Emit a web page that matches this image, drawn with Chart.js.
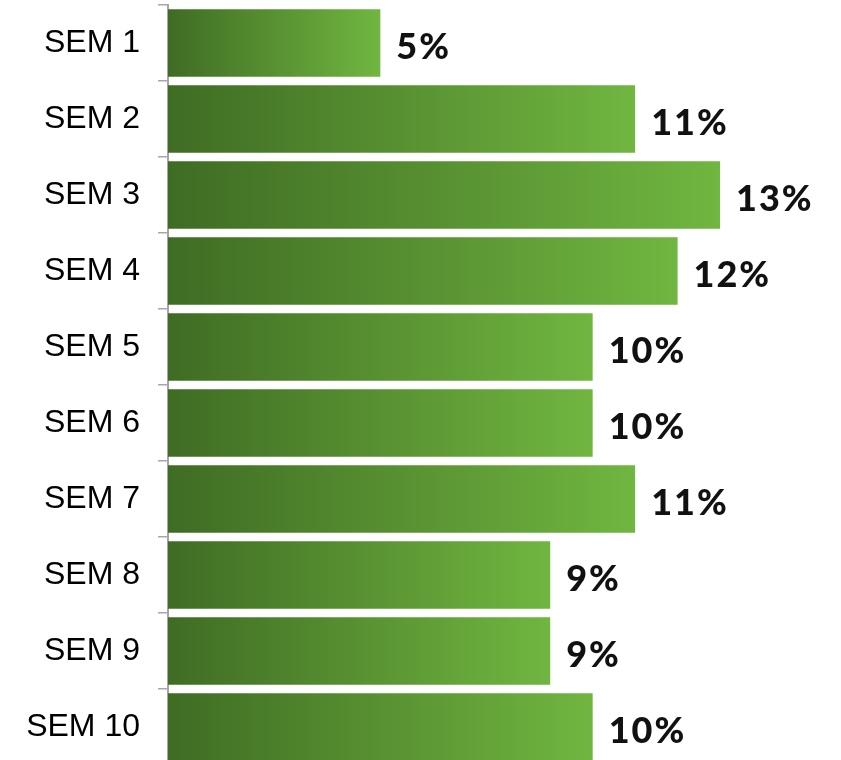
<!DOCTYPE html>
<html>
<head>
<meta charset="utf-8">
<script src="https://cdn.jsdelivr.net/npm/chart.js@4/dist/chart.umd.min.js"></script>
<style>
  html, body { margin: 0; padding: 0; background: #fff; overflow: hidden; }
  #wrap { width: 841px; height: 760px; overflow: hidden; }
</style>
</head>
<body>
<div id="wrap"><canvas id="bars" width="841" height="770"></canvas></div>
<script>
const labels = ["SEM 1", "SEM 2", "SEM 3", "SEM 4", "SEM 5", "SEM 6", "SEM 7", "SEM 8", "SEM 9", "SEM 10"];
const values = [5, 11, 13, 12, 10, 10, 11, 9, 9, 10];

const darkGreen = "#3f6c23";
const lightGreen = "#70b640";

// gradient runs along each bar, from its base to its end
function barFill(context) {
  const chart = context.chart;
  const x = chart.scales.x;
  if (!chart.chartArea || !x) return darkGreen;
  const x0 = x.getPixelForValue(0);
  const x1 = x.getPixelForValue(context.raw);
  const g = chart.ctx.createLinearGradient(x0, 0, x1, 0);
  g.addColorStop(0, darkGreen);
  g.addColorStop(1, lightGreen);
  return g;
}

const valueLabels = {
  id: "valueLabels",
  afterDatasetsDraw(chart) {
    const ctx = chart.ctx;
    const meta = chart.getDatasetMeta(0);
    ctx.save();
    ctx.font = "900 36px Lato";
    ctx.letterSpacing = "2px";
    ctx.fillStyle = "#111";
    ctx.textAlign = "left";
    ctx.textBaseline = "middle";
    meta.data.forEach((bar, i) => {
      ctx.fillText(values[i] + "%", bar.x + 16, bar.y + 4);
    });
    ctx.restore();
  }
};

new Chart(document.getElementById("bars"), {
  type: "bar",
  data: {
    labels: labels,
    datasets: [{
      data: values,
      backgroundColor: barFill,
      borderWidth: 0,
      barPercentage: 0.89,
      categoryPercentage: 1
    }]
  },
  options: {
    indexAxis: "y",
    responsive: false,
    animation: false,
    layout: { padding: { top: 5, bottom: 5, right: 36, left: 0 } },
    plugins: { legend: { display: false }, tooltip: { enabled: false } },
    scales: {
      x: { display: false, min: 0, max: 15 },
      y: {
        afterFit(scale) {
          scale.width = 168;
          scale.paddingTop = 0;
          scale.paddingBottom = 0;
        },
        grid: {
          offset: true,
          drawOnChartArea: false,
          tickLength: 10,
          color: "#a6a6a6",
          lineWidth: 1.5
        },
        border: { color: "#a6a6a6", width: 2 },
        ticks: {
          padding: 18,
          color: "#000",
          font: { family: "Liberation Sans, Arial", size: 32 }
        }
      }
    }
  },
  plugins: [valueLabels]
});
</script>
</body>
</html>
